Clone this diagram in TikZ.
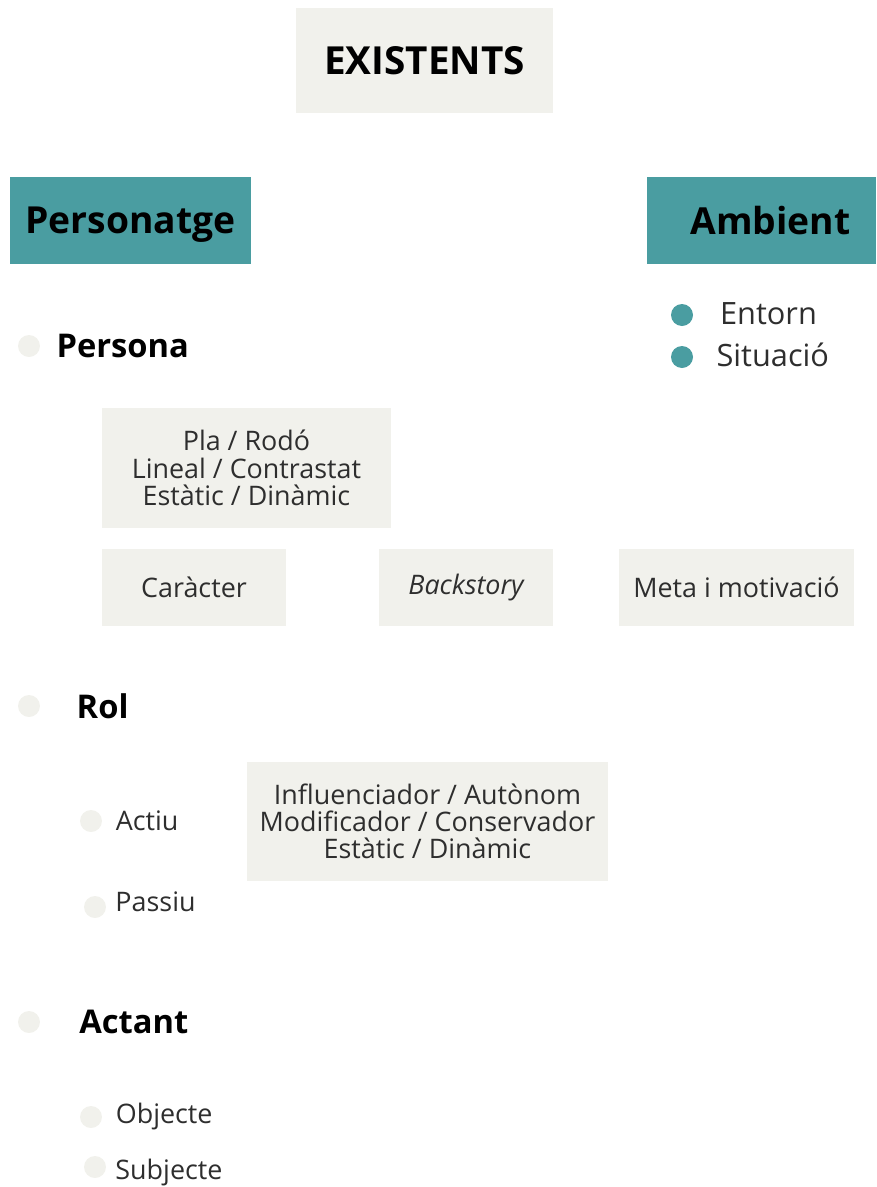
\documentclass[tikz,border=0pt]{standalone}
\usepackage{fontspec}
\setmainfont{Open Sans}
\usepackage{tikz}
\usetikzlibrary{positioning}
\definecolor{lagoon}{HTML}{4A9DA1}
\definecolor{paper}{HTML}{F1F1EC}
\definecolor{ink}{HTML}{2E2E2E}

\begin{document}
\begin{tikzpicture}[
  x=0.02cm, y=-0.02cm,
  text=ink,
  panel/.style={fill=paper, inner sep=0pt, align=center,
                font=\fontsize{15.3}{15.5}\selectfont},
  header/.style={fill=lagoon, inner sep=0pt, minimum height=1.74cm, text depth=0pt,
                 text=black, font=\fontsize{21.2}{24}\selectfont\bfseries},
  dot/.style={circle, fill=paper, inner sep=0pt, minimum size=0.44cm},
  lagoondot/.style={circle, fill=lagoon, inner sep=0pt, minimum size=0.44cm},
  level/.style={inner sep=0pt, text=black, font=\fontsize{18.6}{20}\selectfont\bfseries},
  item/.style={inner sep=0pt, font=\fontsize{15.3}{17}\selectfont},
]
\useasboundingbox (0,0) rectangle (876,1187);

% title
\node[fill=paper, inner sep=0pt, minimum width=5.14cm, minimum height=2.10cm,
      text=black, font=\fontsize{22}{24}\selectfont\bfseries] (existents) at (424.5,60.5) {EXISTENTS};

% two headers
\node[header, minimum width=4.82cm] (personatge) at (130.5,220.5) {Personatge};
\node[header, minimum width=4.58cm] (ambient) at (761.5,220.5) {\hspace{10pt}Ambient};

% ambient items
\node[lagoondot] (d-entorn) at (682,315) {};
\node[item, font=\fontsize{17.5}{20}\selectfont, right=15pt of d-entorn, yshift=1pt] (entorn) {Entorn};
\node[lagoondot] (d-situacio) at (682,357) {};
\node[item, font=\fontsize{17.5}{20}\selectfont, right=13pt of d-situacio, yshift=1pt] (situacio) {Situació};

% persona
\node[dot] (d-persona) at (29,346) {};
\node[level, right=9pt of d-persona] (persona) {Persona};

\node[panel, minimum width=5.78cm, minimum height=2.40cm] (tipus) at (246.5,468)
  {Pla / Rodó\\Lineal / Contrastat\\Estàtic / Dinàmic};
\node[panel, minimum width=3.68cm, minimum height=1.54cm] (caracter) at (194,587.5) {Caràcter};
\node[panel, minimum width=3.48cm, minimum height=1.54cm] (backstory) at (466,587.5) {\itshape Backstory};
\node[panel, minimum width=4.70cm, minimum height=1.54cm] (meta) at (736.5,587.5) {Meta i motivació};

% rol
\node[dot] (d-rol) at (29,706) {};
\node[level, right=20.5pt of d-rol] (rol) {Rol};

\node[dot] (d-actiu) at (91,821) {};
\node[item, right=7.5pt of d-actiu] (actiu) {Actiu};
\node[dot] (d-passiu) at (95,907) {};
\node[item, right=5pt of d-passiu, yshift=3pt] (passiu) {Passiu};

\node[panel, minimum width=7.22cm, minimum height=2.38cm] (funcio) at (427.5,821.5)
  {Influenciador / Autònom\\Modificador / Conservador\\Estàtic / Dinàmic};

% actant
\node[dot] (d-actant) at (29,1022) {};
\node[level, right=22pt of d-actant] (actant) {Actant};

\node[dot] (d-objecte) at (91,1117) {};
\node[item, right=7.5pt of d-objecte] (objecte) {Objecte};
\node[dot] (d-subjecte) at (95,1167) {};
\node[item, right=5pt of d-subjecte, yshift=-3pt] (subjecte) {Subjecte};

\end{tikzpicture}
\end{document}
